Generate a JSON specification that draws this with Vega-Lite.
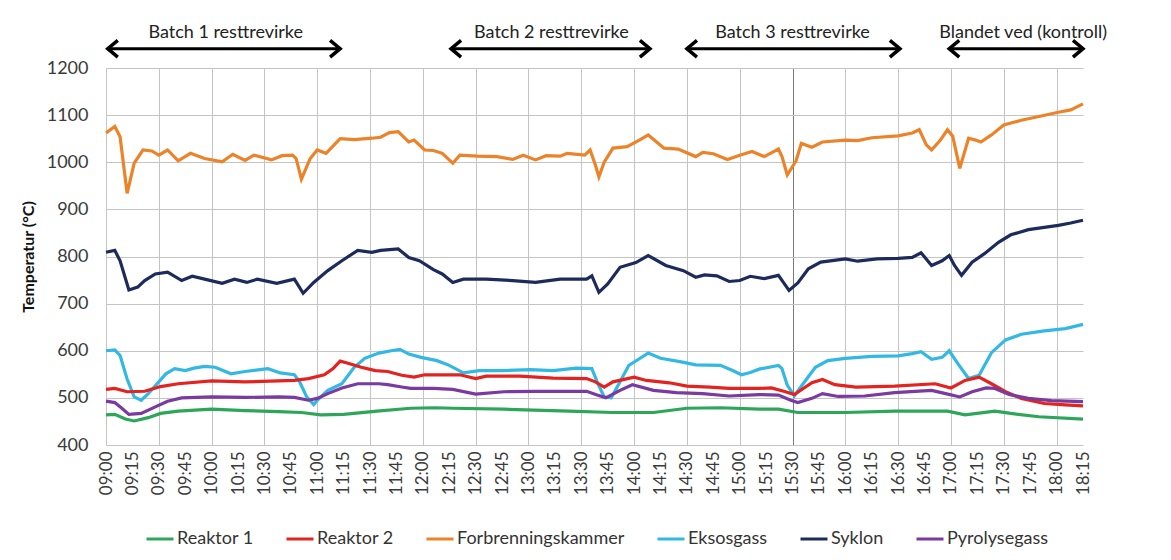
{
  "$schema": "https://vega.github.io/schema/vega-lite/v6.json",
  "width": 977,
  "height": 377,
  "autosize": {"type": "none"},
  "padding": {"left": 106, "top": 68, "right": 88, "bottom": 115},
  "background": "white",
  "config": {
    "view": {"stroke": null},
    "font": "Lato",
    "axis": {"labelFont": "Lato", "titleFont": "Lato", "labelColor": "#3a3a3a", "domain": false, "ticks": false, "gridColor": "#c4c4c4", "gridWidth": 1}
  },
  "layer": [
    {
      "data": {
        "values": [
{"s":"Forbrenningskammer","t":"2021-01-01T09:00Z","v":1062},{"s":"Forbrenningskammer","t":"2021-01-01T09:05Z","v":1076},{"s":"Forbrenningskammer","t":"2021-01-01T09:08Z","v":1054},{"s":"Forbrenningskammer","t":"2021-01-01T09:12Z","v":934},{"s":"Forbrenningskammer","t":"2021-01-01T09:16Z","v":998},{"s":"Forbrenningskammer","t":"2021-01-01T09:21Z","v":1026},{"s":"Forbrenningskammer","t":"2021-01-01T09:26Z","v":1024},{"s":"Forbrenningskammer","t":"2021-01-01T09:30Z","v":1015},{"s":"Forbrenningskammer","t":"2021-01-01T09:35Z","v":1026},{"s":"Forbrenningskammer","t":"2021-01-01T09:41Z","v":1003},{"s":"Forbrenningskammer","t":"2021-01-01T09:48Z","v":1019},{"s":"Forbrenningskammer","t":"2021-01-01T09:56Z","v":1008},{"s":"Forbrenningskammer","t":"2021-01-01T10:06Z","v":1001},{"s":"Forbrenningskammer","t":"2021-01-01T10:12Z","v":1017},{"s":"Forbrenningskammer","t":"2021-01-01T10:19Z","v":1004},{"s":"Forbrenningskammer","t":"2021-01-01T10:24Z","v":1015},{"s":"Forbrenningskammer","t":"2021-01-01T10:34Z","v":1005},{"s":"Forbrenningskammer","t":"2021-01-01T10:40Z","v":1014},{"s":"Forbrenningskammer","t":"2021-01-01T10:46Z","v":1015},{"s":"Forbrenningskammer","t":"2021-01-01T10:48Z","v":1008},{"s":"Forbrenningskammer","t":"2021-01-01T10:51Z","v":964},{"s":"Forbrenningskammer","t":"2021-01-01T10:56Z","v":1008},{"s":"Forbrenningskammer","t":"2021-01-01T11:00Z","v":1026},{"s":"Forbrenningskammer","t":"2021-01-01T11:05Z","v":1019},{"s":"Forbrenningskammer","t":"2021-01-01T11:13Z","v":1050},{"s":"Forbrenningskammer","t":"2021-01-01T11:21Z","v":1048},{"s":"Forbrenningskammer","t":"2021-01-01T11:31Z","v":1051},{"s":"Forbrenningskammer","t":"2021-01-01T11:36Z","v":1053},{"s":"Forbrenningskammer","t":"2021-01-01T11:41Z","v":1063},{"s":"Forbrenningskammer","t":"2021-01-01T11:46Z","v":1065},{"s":"Forbrenningskammer","t":"2021-01-01T11:52Z","v":1043},{"s":"Forbrenningskammer","t":"2021-01-01T11:55Z","v":1047},{"s":"Forbrenningskammer","t":"2021-01-01T12:01Z","v":1026},{"s":"Forbrenningskammer","t":"2021-01-01T12:06Z","v":1025},{"s":"Forbrenningskammer","t":"2021-01-01T12:11Z","v":1019},{"s":"Forbrenningskammer","t":"2021-01-01T12:17Z","v":998},{"s":"Forbrenningskammer","t":"2021-01-01T12:21Z","v":1015},{"s":"Forbrenningskammer","t":"2021-01-01T12:31Z","v":1013},{"s":"Forbrenningskammer","t":"2021-01-01T12:42Z","v":1012},{"s":"Forbrenningskammer","t":"2021-01-01T12:51Z","v":1006},{"s":"Forbrenningskammer","t":"2021-01-01T12:57Z","v":1015},{"s":"Forbrenningskammer","t":"2021-01-01T13:04Z","v":1005},{"s":"Forbrenningskammer","t":"2021-01-01T13:10Z","v":1014},{"s":"Forbrenningskammer","t":"2021-01-01T13:18Z","v":1013},{"s":"Forbrenningskammer","t":"2021-01-01T13:22Z","v":1019},{"s":"Forbrenningskammer","t":"2021-01-01T13:32Z","v":1015},{"s":"Forbrenningskammer","t":"2021-01-01T13:35Z","v":1026},{"s":"Forbrenningskammer","t":"2021-01-01T13:38Z","v":994},{"s":"Forbrenningskammer","t":"2021-01-01T13:40Z","v":969},{"s":"Forbrenningskammer","t":"2021-01-01T13:43Z","v":1000},{"s":"Forbrenningskammer","t":"2021-01-01T13:48Z","v":1030},{"s":"Forbrenningskammer","t":"2021-01-01T13:56Z","v":1033},{"s":"Forbrenningskammer","t":"2021-01-01T14:03Z","v":1047},{"s":"Forbrenningskammer","t":"2021-01-01T14:08Z","v":1058},{"s":"Forbrenningskammer","t":"2021-01-01T14:17Z","v":1030},{"s":"Forbrenningskammer","t":"2021-01-01T14:25Z","v":1028},{"s":"Forbrenningskammer","t":"2021-01-01T14:35Z","v":1012},{"s":"Forbrenningskammer","t":"2021-01-01T14:39Z","v":1021},{"s":"Forbrenningskammer","t":"2021-01-01T14:45Z","v":1018},{"s":"Forbrenningskammer","t":"2021-01-01T14:53Z","v":1006},{"s":"Forbrenningskammer","t":"2021-01-01T15:00Z","v":1015},{"s":"Forbrenningskammer","t":"2021-01-01T15:07Z","v":1023},{"s":"Forbrenningskammer","t":"2021-01-01T15:14Z","v":1012},{"s":"Forbrenningskammer","t":"2021-01-01T15:22Z","v":1028},{"s":"Forbrenningskammer","t":"2021-01-01T15:24Z","v":1012},{"s":"Forbrenningskammer","t":"2021-01-01T15:27Z","v":973},{"s":"Forbrenningskammer","t":"2021-01-01T15:32Z","v":1003},{"s":"Forbrenningskammer","t":"2021-01-01T15:35Z","v":1040},{"s":"Forbrenningskammer","t":"2021-01-01T15:41Z","v":1032},{"s":"Forbrenningskammer","t":"2021-01-01T15:47Z","v":1043},{"s":"Forbrenningskammer","t":"2021-01-01T16:00Z","v":1047},{"s":"Forbrenningskammer","t":"2021-01-01T16:07Z","v":1046},{"s":"Forbrenningskammer","t":"2021-01-01T16:15Z","v":1052},{"s":"Forbrenningskammer","t":"2021-01-01T16:30Z","v":1056},{"s":"Forbrenningskammer","t":"2021-01-01T16:38Z","v":1062},{"s":"Forbrenningskammer","t":"2021-01-01T16:42Z","v":1069},{"s":"Forbrenningskammer","t":"2021-01-01T16:46Z","v":1037},{"s":"Forbrenningskammer","t":"2021-01-01T16:49Z","v":1026},{"s":"Forbrenningskammer","t":"2021-01-01T16:54Z","v":1047},{"s":"Forbrenningskammer","t":"2021-01-01T16:58Z","v":1069},{"s":"Forbrenningskammer","t":"2021-01-01T17:01Z","v":1055},{"s":"Forbrenningskammer","t":"2021-01-01T17:05Z","v":987},{"s":"Forbrenningskammer","t":"2021-01-01T17:10Z","v":1051},{"s":"Forbrenningskammer","t":"2021-01-01T17:14Z","v":1047},{"s":"Forbrenningskammer","t":"2021-01-01T17:17Z","v":1043},{"s":"Forbrenningskammer","t":"2021-01-01T17:23Z","v":1058},{"s":"Forbrenningskammer","t":"2021-01-01T17:30Z","v":1079},{"s":"Forbrenningskammer","t":"2021-01-01T17:40Z","v":1089},{"s":"Forbrenningskammer","t":"2021-01-01T17:50Z","v":1097},{"s":"Forbrenningskammer","t":"2021-01-01T18:01Z","v":1106},{"s":"Forbrenningskammer","t":"2021-01-01T18:08Z","v":1111},{"s":"Forbrenningskammer","t":"2021-01-01T18:15Z","v":1124},
{"s":"Syklon","t":"2021-01-01T09:00Z","v":809},{"s":"Syklon","t":"2021-01-01T09:05Z","v":813},{"s":"Syklon","t":"2021-01-01T09:08Z","v":791},{"s":"Syklon","t":"2021-01-01T09:13Z","v":729},{"s":"Syklon","t":"2021-01-01T09:18Z","v":735},{"s":"Syklon","t":"2021-01-01T09:22Z","v":749},{"s":"Syklon","t":"2021-01-01T09:28Z","v":763},{"s":"Syklon","t":"2021-01-01T09:35Z","v":767},{"s":"Syklon","t":"2021-01-01T09:43Z","v":749},{"s":"Syklon","t":"2021-01-01T09:49Z","v":758},{"s":"Syklon","t":"2021-01-01T09:56Z","v":752},{"s":"Syklon","t":"2021-01-01T10:06Z","v":743},{"s":"Syklon","t":"2021-01-01T10:13Z","v":752},{"s":"Syklon","t":"2021-01-01T10:20Z","v":745},{"s":"Syklon","t":"2021-01-01T10:26Z","v":752},{"s":"Syklon","t":"2021-01-01T10:37Z","v":743},{"s":"Syklon","t":"2021-01-01T10:47Z","v":752},{"s":"Syklon","t":"2021-01-01T10:52Z","v":722},{"s":"Syklon","t":"2021-01-01T10:58Z","v":745},{"s":"Syklon","t":"2021-01-01T11:06Z","v":770},{"s":"Syklon","t":"2021-01-01T11:14Z","v":791},{"s":"Syklon","t":"2021-01-01T11:23Z","v":813},{"s":"Syklon","t":"2021-01-01T11:31Z","v":809},{"s":"Syklon","t":"2021-01-01T11:36Z","v":813},{"s":"Syklon","t":"2021-01-01T11:46Z","v":816},{"s":"Syklon","t":"2021-01-01T11:52Z","v":798},{"s":"Syklon","t":"2021-01-01T11:58Z","v":791},{"s":"Syklon","t":"2021-01-01T12:06Z","v":772},{"s":"Syklon","t":"2021-01-01T12:11Z","v":763},{"s":"Syklon","t":"2021-01-01T12:17Z","v":745},{"s":"Syklon","t":"2021-01-01T12:23Z","v":752},{"s":"Syklon","t":"2021-01-01T12:36Z","v":752},{"s":"Syklon","t":"2021-01-01T12:51Z","v":749},{"s":"Syklon","t":"2021-01-01T13:04Z","v":745},{"s":"Syklon","t":"2021-01-01T13:18Z","v":752},{"s":"Syklon","t":"2021-01-01T13:33Z","v":752},{"s":"Syklon","t":"2021-01-01T13:36Z","v":759},{"s":"Syklon","t":"2021-01-01T13:40Z","v":724},{"s":"Syklon","t":"2021-01-01T13:45Z","v":742},{"s":"Syklon","t":"2021-01-01T13:52Z","v":777},{"s":"Syklon","t":"2021-01-01T14:01Z","v":787},{"s":"Syklon","t":"2021-01-01T14:08Z","v":802},{"s":"Syklon","t":"2021-01-01T14:18Z","v":781},{"s":"Syklon","t":"2021-01-01T14:28Z","v":770},{"s":"Syklon","t":"2021-01-01T14:35Z","v":756},{"s":"Syklon","t":"2021-01-01T14:40Z","v":761},{"s":"Syklon","t":"2021-01-01T14:47Z","v":759},{"s":"Syklon","t":"2021-01-01T14:54Z","v":747},{"s":"Syklon","t":"2021-01-01T15:00Z","v":749},{"s":"Syklon","t":"2021-01-01T15:06Z","v":758},{"s":"Syklon","t":"2021-01-01T15:14Z","v":753},{"s":"Syklon","t":"2021-01-01T15:22Z","v":760},{"s":"Syklon","t":"2021-01-01T15:25Z","v":744},{"s":"Syklon","t":"2021-01-01T15:28Z","v":728},{"s":"Syklon","t":"2021-01-01T15:33Z","v":744},{"s":"Syklon","t":"2021-01-01T15:39Z","v":774},{"s":"Syklon","t":"2021-01-01T15:46Z","v":788},{"s":"Syklon","t":"2021-01-01T16:00Z","v":795},{"s":"Syklon","t":"2021-01-01T16:07Z","v":790},{"s":"Syklon","t":"2021-01-01T16:18Z","v":795},{"s":"Syklon","t":"2021-01-01T16:30Z","v":796},{"s":"Syklon","t":"2021-01-01T16:38Z","v":798},{"s":"Syklon","t":"2021-01-01T16:43Z","v":808},{"s":"Syklon","t":"2021-01-01T16:49Z","v":781},{"s":"Syklon","t":"2021-01-01T16:55Z","v":791},{"s":"Syklon","t":"2021-01-01T16:59Z","v":802},{"s":"Syklon","t":"2021-01-01T17:02Z","v":781},{"s":"Syklon","t":"2021-01-01T17:06Z","v":760},{"s":"Syklon","t":"2021-01-01T17:12Z","v":788},{"s":"Syklon","t":"2021-01-01T17:19Z","v":806},{"s":"Syklon","t":"2021-01-01T17:27Z","v":830},{"s":"Syklon","t":"2021-01-01T17:34Z","v":846},{"s":"Syklon","t":"2021-01-01T17:44Z","v":857},{"s":"Syklon","t":"2021-01-01T18:01Z","v":866},{"s":"Syklon","t":"2021-01-01T18:08Z","v":871},{"s":"Syklon","t":"2021-01-01T18:15Z","v":877},
{"s":"Eksosgass","t":"2021-01-01T09:00Z","v":600},{"s":"Eksosgass","t":"2021-01-01T09:05Z","v":602},{"s":"Eksosgass","t":"2021-01-01T09:08Z","v":590},{"s":"Eksosgass","t":"2021-01-01T09:12Z","v":540},{"s":"Eksosgass","t":"2021-01-01T09:16Z","v":502},{"s":"Eksosgass","t":"2021-01-01T09:20Z","v":495},{"s":"Eksosgass","t":"2021-01-01T09:24Z","v":509},{"s":"Eksosgass","t":"2021-01-01T09:30Z","v":534},{"s":"Eksosgass","t":"2021-01-01T09:34Z","v":551},{"s":"Eksosgass","t":"2021-01-01T09:39Z","v":562},{"s":"Eksosgass","t":"2021-01-01T09:45Z","v":558},{"s":"Eksosgass","t":"2021-01-01T09:50Z","v":563},{"s":"Eksosgass","t":"2021-01-01T09:56Z","v":567},{"s":"Eksosgass","t":"2021-01-01T10:02Z","v":565},{"s":"Eksosgass","t":"2021-01-01T10:11Z","v":551},{"s":"Eksosgass","t":"2021-01-01T10:19Z","v":556},{"s":"Eksosgass","t":"2021-01-01T10:32Z","v":562},{"s":"Eksosgass","t":"2021-01-01T10:39Z","v":553},{"s":"Eksosgass","t":"2021-01-01T10:47Z","v":549},{"s":"Eksosgass","t":"2021-01-01T10:50Z","v":534},{"s":"Eksosgass","t":"2021-01-01T10:54Z","v":502},{"s":"Eksosgass","t":"2021-01-01T10:58Z","v":486},{"s":"Eksosgass","t":"2021-01-01T11:00Z","v":495},{"s":"Eksosgass","t":"2021-01-01T11:06Z","v":516},{"s":"Eksosgass","t":"2021-01-01T11:14Z","v":530},{"s":"Eksosgass","t":"2021-01-01T11:21Z","v":565},{"s":"Eksosgass","t":"2021-01-01T11:27Z","v":584},{"s":"Eksosgass","t":"2021-01-01T11:35Z","v":595},{"s":"Eksosgass","t":"2021-01-01T11:42Z","v":600},{"s":"Eksosgass","t":"2021-01-01T11:47Z","v":603},{"s":"Eksosgass","t":"2021-01-01T11:52Z","v":593},{"s":"Eksosgass","t":"2021-01-01T11:59Z","v":586},{"s":"Eksosgass","t":"2021-01-01T12:08Z","v":579},{"s":"Eksosgass","t":"2021-01-01T12:15Z","v":569},{"s":"Eksosgass","t":"2021-01-01T12:23Z","v":553},{"s":"Eksosgass","t":"2021-01-01T12:32Z","v":558},{"s":"Eksosgass","t":"2021-01-01T12:45Z","v":558},{"s":"Eksosgass","t":"2021-01-01T13:01Z","v":560},{"s":"Eksosgass","t":"2021-01-01T13:14Z","v":558},{"s":"Eksosgass","t":"2021-01-01T13:27Z","v":563},{"s":"Eksosgass","t":"2021-01-01T13:36Z","v":562},{"s":"Eksosgass","t":"2021-01-01T13:39Z","v":534},{"s":"Eksosgass","t":"2021-01-01T13:43Z","v":502},{"s":"Eksosgass","t":"2021-01-01T13:47Z","v":500},{"s":"Eksosgass","t":"2021-01-01T13:52Z","v":534},{"s":"Eksosgass","t":"2021-01-01T13:57Z","v":569},{"s":"Eksosgass","t":"2021-01-01T14:03Z","v":583},{"s":"Eksosgass","t":"2021-01-01T14:08Z","v":595},{"s":"Eksosgass","t":"2021-01-01T14:15Z","v":584},{"s":"Eksosgass","t":"2021-01-01T14:26Z","v":577},{"s":"Eksosgass","t":"2021-01-01T14:35Z","v":570},{"s":"Eksosgass","t":"2021-01-01T14:49Z","v":569},{"s":"Eksosgass","t":"2021-01-01T14:56Z","v":558},{"s":"Eksosgass","t":"2021-01-01T15:01Z","v":549},{"s":"Eksosgass","t":"2021-01-01T15:06Z","v":554},{"s":"Eksosgass","t":"2021-01-01T15:11Z","v":561},{"s":"Eksosgass","t":"2021-01-01T15:22Z","v":569},{"s":"Eksosgass","t":"2021-01-01T15:24Z","v":562},{"s":"Eksosgass","t":"2021-01-01T15:27Z","v":527},{"s":"Eksosgass","t":"2021-01-01T15:31Z","v":504},{"s":"Eksosgass","t":"2021-01-01T15:36Z","v":530},{"s":"Eksosgass","t":"2021-01-01T15:43Z","v":565},{"s":"Eksosgass","t":"2021-01-01T15:50Z","v":579},{"s":"Eksosgass","t":"2021-01-01T16:00Z","v":584},{"s":"Eksosgass","t":"2021-01-01T16:15Z","v":588},{"s":"Eksosgass","t":"2021-01-01T16:30Z","v":589},{"s":"Eksosgass","t":"2021-01-01T16:38Z","v":594},{"s":"Eksosgass","t":"2021-01-01T16:43Z","v":598},{"s":"Eksosgass","t":"2021-01-01T16:49Z","v":582},{"s":"Eksosgass","t":"2021-01-01T16:55Z","v":586},{"s":"Eksosgass","t":"2021-01-01T16:59Z","v":600},{"s":"Eksosgass","t":"2021-01-01T17:04Z","v":572},{"s":"Eksosgass","t":"2021-01-01T17:10Z","v":541},{"s":"Eksosgass","t":"2021-01-01T17:16Z","v":548},{"s":"Eksosgass","t":"2021-01-01T17:23Z","v":596},{"s":"Eksosgass","t":"2021-01-01T17:31Z","v":623},{"s":"Eksosgass","t":"2021-01-01T17:40Z","v":635},{"s":"Eksosgass","t":"2021-01-01T17:53Z","v":642},{"s":"Eksosgass","t":"2021-01-01T18:05Z","v":647},{"s":"Eksosgass","t":"2021-01-01T18:15Z","v":656},
{"s":"Reaktor 2","t":"2021-01-01T09:00Z","v":518},{"s":"Reaktor 2","t":"2021-01-01T09:05Z","v":520},{"s":"Reaktor 2","t":"2021-01-01T09:12Z","v":513},{"s":"Reaktor 2","t":"2021-01-01T09:22Z","v":514},{"s":"Reaktor 2","t":"2021-01-01T09:31Z","v":524},{"s":"Reaktor 2","t":"2021-01-01T09:41Z","v":530},{"s":"Reaktor 2","t":"2021-01-01T10:00Z","v":536},{"s":"Reaktor 2","t":"2021-01-01T10:19Z","v":534},{"s":"Reaktor 2","t":"2021-01-01T10:38Z","v":536},{"s":"Reaktor 2","t":"2021-01-01T10:47Z","v":537},{"s":"Reaktor 2","t":"2021-01-01T10:55Z","v":541},{"s":"Reaktor 2","t":"2021-01-01T11:04Z","v":549},{"s":"Reaktor 2","t":"2021-01-01T11:09Z","v":562},{"s":"Reaktor 2","t":"2021-01-01T11:13Z","v":578},{"s":"Reaktor 2","t":"2021-01-01T11:17Z","v":574},{"s":"Reaktor 2","t":"2021-01-01T11:25Z","v":565},{"s":"Reaktor 2","t":"2021-01-01T11:33Z","v":558},{"s":"Reaktor 2","t":"2021-01-01T11:40Z","v":556},{"s":"Reaktor 2","t":"2021-01-01T11:48Z","v":548},{"s":"Reaktor 2","t":"2021-01-01T11:55Z","v":544},{"s":"Reaktor 2","t":"2021-01-01T12:01Z","v":549},{"s":"Reaktor 2","t":"2021-01-01T12:10Z","v":549},{"s":"Reaktor 2","t":"2021-01-01T12:21Z","v":549},{"s":"Reaktor 2","t":"2021-01-01T12:30Z","v":541},{"s":"Reaktor 2","t":"2021-01-01T12:36Z","v":546},{"s":"Reaktor 2","t":"2021-01-01T12:55Z","v":546},{"s":"Reaktor 2","t":"2021-01-01T13:14Z","v":542},{"s":"Reaktor 2","t":"2021-01-01T13:33Z","v":541},{"s":"Reaktor 2","t":"2021-01-01T13:38Z","v":534},{"s":"Reaktor 2","t":"2021-01-01T13:43Z","v":523},{"s":"Reaktor 2","t":"2021-01-01T13:48Z","v":534},{"s":"Reaktor 2","t":"2021-01-01T14:00Z","v":544},{"s":"Reaktor 2","t":"2021-01-01T14:07Z","v":537},{"s":"Reaktor 2","t":"2021-01-01T14:20Z","v":532},{"s":"Reaktor 2","t":"2021-01-01T14:30Z","v":525},{"s":"Reaktor 2","t":"2021-01-01T14:43Z","v":523},{"s":"Reaktor 2","t":"2021-01-01T14:54Z","v":520},{"s":"Reaktor 2","t":"2021-01-01T15:11Z","v":520},{"s":"Reaktor 2","t":"2021-01-01T15:18Z","v":521},{"s":"Reaktor 2","t":"2021-01-01T15:26Z","v":513},{"s":"Reaktor 2","t":"2021-01-01T15:31Z","v":507},{"s":"Reaktor 2","t":"2021-01-01T15:41Z","v":532},{"s":"Reaktor 2","t":"2021-01-01T15:47Z","v":539},{"s":"Reaktor 2","t":"2021-01-01T15:54Z","v":528},{"s":"Reaktor 2","t":"2021-01-01T16:06Z","v":523},{"s":"Reaktor 2","t":"2021-01-01T16:28Z","v":525},{"s":"Reaktor 2","t":"2021-01-01T16:51Z","v":530},{"s":"Reaktor 2","t":"2021-01-01T17:00Z","v":521},{"s":"Reaktor 2","t":"2021-01-01T17:08Z","v":537},{"s":"Reaktor 2","t":"2021-01-01T17:16Z","v":544},{"s":"Reaktor 2","t":"2021-01-01T17:23Z","v":530},{"s":"Reaktor 2","t":"2021-01-01T17:31Z","v":513},{"s":"Reaktor 2","t":"2021-01-01T17:40Z","v":499},{"s":"Reaktor 2","t":"2021-01-01T17:53Z","v":488},{"s":"Reaktor 2","t":"2021-01-01T18:05Z","v":485},{"s":"Reaktor 2","t":"2021-01-01T18:15Z","v":483},
{"s":"Pyrolysegass","t":"2021-01-01T09:00Z","v":493},{"s":"Pyrolysegass","t":"2021-01-01T09:05Z","v":490},{"s":"Pyrolysegass","t":"2021-01-01T09:09Z","v":478},{"s":"Pyrolysegass","t":"2021-01-01T09:13Z","v":465},{"s":"Pyrolysegass","t":"2021-01-01T09:20Z","v":467},{"s":"Pyrolysegass","t":"2021-01-01T09:28Z","v":481},{"s":"Pyrolysegass","t":"2021-01-01T09:35Z","v":493},{"s":"Pyrolysegass","t":"2021-01-01T09:43Z","v":500},{"s":"Pyrolysegass","t":"2021-01-01T10:00Z","v":502},{"s":"Pyrolysegass","t":"2021-01-01T10:19Z","v":501},{"s":"Pyrolysegass","t":"2021-01-01T10:38Z","v":502},{"s":"Pyrolysegass","t":"2021-01-01T10:47Z","v":501},{"s":"Pyrolysegass","t":"2021-01-01T10:55Z","v":495},{"s":"Pyrolysegass","t":"2021-01-01T11:00Z","v":499},{"s":"Pyrolysegass","t":"2021-01-01T11:06Z","v":509},{"s":"Pyrolysegass","t":"2021-01-01T11:14Z","v":521},{"s":"Pyrolysegass","t":"2021-01-01T11:23Z","v":530},{"s":"Pyrolysegass","t":"2021-01-01T11:35Z","v":530},{"s":"Pyrolysegass","t":"2021-01-01T11:40Z","v":528},{"s":"Pyrolysegass","t":"2021-01-01T11:48Z","v":523},{"s":"Pyrolysegass","t":"2021-01-01T11:53Z","v":520},{"s":"Pyrolysegass","t":"2021-01-01T12:06Z","v":520},{"s":"Pyrolysegass","t":"2021-01-01T12:17Z","v":518},{"s":"Pyrolysegass","t":"2021-01-01T12:30Z","v":508},{"s":"Pyrolysegass","t":"2021-01-01T12:46Z","v":513},{"s":"Pyrolysegass","t":"2021-01-01T13:05Z","v":514},{"s":"Pyrolysegass","t":"2021-01-01T13:33Z","v":514},{"s":"Pyrolysegass","t":"2021-01-01T13:39Z","v":506},{"s":"Pyrolysegass","t":"2021-01-01T13:44Z","v":500},{"s":"Pyrolysegass","t":"2021-01-01T13:52Z","v":516},{"s":"Pyrolysegass","t":"2021-01-01T13:59Z","v":528},{"s":"Pyrolysegass","t":"2021-01-01T14:11Z","v":516},{"s":"Pyrolysegass","t":"2021-01-01T14:24Z","v":511},{"s":"Pyrolysegass","t":"2021-01-01T14:39Z","v":509},{"s":"Pyrolysegass","t":"2021-01-01T14:54Z","v":504},{"s":"Pyrolysegass","t":"2021-01-01T15:11Z","v":507},{"s":"Pyrolysegass","t":"2021-01-01T15:22Z","v":506},{"s":"Pyrolysegass","t":"2021-01-01T15:29Z","v":495},{"s":"Pyrolysegass","t":"2021-01-01T15:33Z","v":490},{"s":"Pyrolysegass","t":"2021-01-01T15:41Z","v":499},{"s":"Pyrolysegass","t":"2021-01-01T15:47Z","v":509},{"s":"Pyrolysegass","t":"2021-01-01T15:56Z","v":503},{"s":"Pyrolysegass","t":"2021-01-01T16:11Z","v":504},{"s":"Pyrolysegass","t":"2021-01-01T16:28Z","v":511},{"s":"Pyrolysegass","t":"2021-01-01T16:49Z","v":516},{"s":"Pyrolysegass","t":"2021-01-01T16:57Z","v":509},{"s":"Pyrolysegass","t":"2021-01-01T17:05Z","v":502},{"s":"Pyrolysegass","t":"2021-01-01T17:12Z","v":513},{"s":"Pyrolysegass","t":"2021-01-01T17:20Z","v":521},{"s":"Pyrolysegass","t":"2021-01-01T17:25Z","v":520},{"s":"Pyrolysegass","t":"2021-01-01T17:33Z","v":507},{"s":"Pyrolysegass","t":"2021-01-01T17:44Z","v":499},{"s":"Pyrolysegass","t":"2021-01-01T17:57Z","v":494},{"s":"Pyrolysegass","t":"2021-01-01T18:15Z","v":492},
{"s":"Reaktor 1","t":"2021-01-01T09:00Z","v":464},{"s":"Reaktor 1","t":"2021-01-01T09:05Z","v":465},{"s":"Reaktor 1","t":"2021-01-01T09:11Z","v":455},{"s":"Reaktor 1","t":"2021-01-01T09:16Z","v":451},{"s":"Reaktor 1","t":"2021-01-01T09:24Z","v":458},{"s":"Reaktor 1","t":"2021-01-01T09:31Z","v":467},{"s":"Reaktor 1","t":"2021-01-01T09:41Z","v":472},{"s":"Reaktor 1","t":"2021-01-01T10:00Z","v":476},{"s":"Reaktor 1","t":"2021-01-01T10:19Z","v":473},{"s":"Reaktor 1","t":"2021-01-01T10:38Z","v":471},{"s":"Reaktor 1","t":"2021-01-01T10:51Z","v":469},{"s":"Reaktor 1","t":"2021-01-01T11:02Z","v":464},{"s":"Reaktor 1","t":"2021-01-01T11:15Z","v":465},{"s":"Reaktor 1","t":"2021-01-01T11:34Z","v":472},{"s":"Reaktor 1","t":"2021-01-01T11:53Z","v":478},{"s":"Reaktor 1","t":"2021-01-01T12:07Z","v":479},{"s":"Reaktor 1","t":"2021-01-01T12:17Z","v":478},{"s":"Reaktor 1","t":"2021-01-01T12:46Z","v":476},{"s":"Reaktor 1","t":"2021-01-01T13:23Z","v":472},{"s":"Reaktor 1","t":"2021-01-01T13:48Z","v":469},{"s":"Reaktor 1","t":"2021-01-01T14:11Z","v":469},{"s":"Reaktor 1","t":"2021-01-01T14:30Z","v":478},{"s":"Reaktor 1","t":"2021-01-01T14:49Z","v":479},{"s":"Reaktor 1","t":"2021-01-01T15:11Z","v":476},{"s":"Reaktor 1","t":"2021-01-01T15:22Z","v":476},{"s":"Reaktor 1","t":"2021-01-01T15:33Z","v":469},{"s":"Reaktor 1","t":"2021-01-01T16:00Z","v":469},{"s":"Reaktor 1","t":"2021-01-01T16:28Z","v":472},{"s":"Reaktor 1","t":"2021-01-01T16:58Z","v":472},{"s":"Reaktor 1","t":"2021-01-01T17:08Z","v":464},{"s":"Reaktor 1","t":"2021-01-01T17:25Z","v":472},{"s":"Reaktor 1","t":"2021-01-01T17:34Z","v":467},{"s":"Reaktor 1","t":"2021-01-01T17:50Z","v":460},{"s":"Reaktor 1","t":"2021-01-01T18:15Z","v":455}
        ]
      },
      "mark": {"type": "line", "strokeWidth": 3.2},
      "encoding": {
        "x": {
          "field": "t", "type": "temporal",
          "scale": {"type": "utc", "nice": false},
          "axis": {
            "title": null, "format": "%H:%M", "labelAngle": -90, "labelFontSize": 17, "labelPadding": 6,
            "labelOverlap": false, "tickCount": 37,
            "grid": true,
            "gridOpacity": {"condition": {"test": "utcminutes(datum.value) % 30 === 0", "value": 1}, "value": 0},
            "gridColor": {"condition": {"test": "utchours(datum.value) === 15 && utcminutes(datum.value) === 30", "value": "#7a7a7a"}, "value": "#c4c4c4"}
          }
        },
        "y": {
          "field": "v", "type": "quantitative",
          "scale": {"domain": [400, 1200], "nice": false, "zero": false},
          "axis": {"title": "Temperatur (°C)", "format": "d", "titleFontSize": 16, "titleFontWeight": "bold", "titleColor": "#111", "titlePadding": 10, "values": [400, 500, 600, 700, 800, 900, 1000, 1100, 1200], "labelFontSize": 18, "labelPadding": 18, "grid": true}
        },
        "color": {
          "field": "s", "type": "nominal",
          "scale": {"domain": ["Reaktor 1", "Reaktor 2", "Forbrenningskammer", "Eksosgass", "Syklon", "Pyrolysegass"], "range": ["#2ea65a", "#e3231f", "#ec8329", "#33b8e4", "#1c2b5c", "#7a3aa0"]},
          "legend": {"title": null, "orient": "none", "direction": "horizontal", "legendX": 39, "legendY": 456, "symbolType": "stroke", "symbolSize": 729, "symbolStrokeWidth": 3, "labelFontSize": 18, "labelFont": "Lato", "labelColor": "#333", "labelOffset": 2, "labelLimit": 400, "columnPadding": 26}
        }
      }
    },
    {
      "data": {
        "values": [
          {"label": "Batch 1 resttrevirke", "start": "2021-01-01T09:01Z", "end": "2021-01-01T11:13Z", "mid": "2021-01-01T10:08Z"},
          {"label": "Batch 2 resttrevirke", "start": "2021-01-01T12:16Z", "end": "2021-01-01T14:09Z", "mid": "2021-01-01T13:13Z"},
          {"label": "Batch 3 resttrevirke", "start": "2021-01-01T14:30Z", "end": "2021-01-01T16:31Z", "mid": "2021-01-01T15:30Z"},
          {"label": "Blandet ved (kontroll)", "start": "2021-01-01T16:59Z", "end": "2021-01-01T18:15Z", "mid": "2021-01-01T17:41Z"}
        ]
      },
      "layer": [
        {
          "mark": {"type": "rule", "color": "black", "strokeWidth": 3},
          "encoding": {"x": {"field": "start", "type": "temporal"}, "x2": {"field": "end"}, "y": {"datum": 1241}}
        },
        {
          "mark": {"type": "point", "shape": "M 1.2 -1 L 0 0 L 1.2 1", "filled": false, "stroke": "black", "strokeWidth": 3.5, "size": 280, "opacity": 1},
          "encoding": {"x": {"field": "start", "type": "temporal"}, "y": {"datum": 1241}}
        },
        {
          "mark": {"type": "point", "shape": "M -1.2 -1 L 0 0 L -1.2 1", "filled": false, "stroke": "black", "strokeWidth": 3.5, "size": 280, "opacity": 1},
          "encoding": {"x": {"field": "end", "type": "temporal"}, "y": {"datum": 1241}}
        },
        {
          "mark": {"type": "text", "fontSize": 18, "font": "Lato", "color": "#222", "baseline": "middle", "align": "center"},
          "encoding": {"x": {"field": "mid", "type": "temporal"}, "y": {"datum": 1274}, "text": {"field": "label"}}
        }
      ]
    }
  ]
}
